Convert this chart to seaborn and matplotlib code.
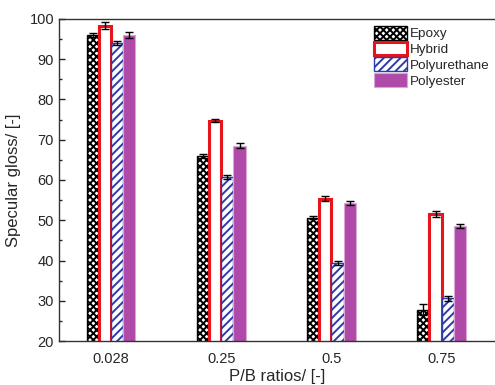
import pandas as pd
import matplotlib
matplotlib.use("Agg")
import matplotlib.pyplot as plt
from matplotlib.patches import Patch
from matplotlib.ticker import MultipleLocator
import seaborn as sns

# P/B ratio groups and the four binder types
ratios = ['0.028', '0.25', '0.5', '0.75']
binders = ['Epoxy', 'Hybrid', 'Polyurethane', 'Polyester']

epoxy = [96.0, 66.0, 50.6, 27.8]
hybrid = [98.3, 74.7, 55.4, 51.5]
polyurethane = [94.0, 60.7, 39.4, 30.6]
polyester = [96.0, 68.5, 54.4, 48.5]

epoxy_err = [0.6, 0.5, 0.4, 1.4]
hybrid_err = [0.8, 0.4, 0.7, 0.7]
polyurethane_err = [0.6, 0.5, 0.5, 0.6]
polyester_err = [0.8, 0.6, 0.5, 0.5]

values = [epoxy, hybrid, polyurethane, polyester]
errors = [epoxy_err, hybrid_err, polyurethane_err, polyester_err]

df = pd.DataFrame({
    'ratio': ratios * 4,
    'binder': [b for b in binders for _ in ratios],
    'gloss': [v for series in values for v in series],
})

sns.set_style('white')
plt.rcParams['font.family'] = ['Liberation Sans', 'DejaVu Sans']
plt.rcParams['hatch.linewidth'] = 1.4

# look of each series: face, edge, hatch, edge width
styles = {
    'Epoxy': dict(facecolor='white', edgecolor='black', hatch='xxxxx', linewidth=1.0),
    'Hybrid': dict(facecolor='white', edgecolor='#e8141c', hatch=None, linewidth=2.2),
    'Polyurethane': dict(facecolor='white', edgecolor='#2b3caa', hatch='////', linewidth=1.0),
    'Polyester': dict(facecolor='#b04aa8', edgecolor='#d9a6d5', hatch=None, linewidth=0.8),
}

fig = plt.figure(figsize=(4.95, 3.85), dpi=100)
ax = fig.add_axes([0.119, 0.114, 0.881, 0.837])

sns.barplot(data=df, x='ratio', y='gloss', hue='binder', order=ratios,
            hue_order=binders, errorbar=None, width=0.44, gap=0, ax=ax,
            legend=False)

for cont, name, err in zip(ax.containers, binders, errors):
    st = styles[name]
    xs, ys = [], []
    for bar in cont:
        bar.set_facecolor(st['facecolor'])
        bar.set_edgecolor(st['edgecolor'])
        bar.set_linewidth(st['linewidth'])
        if st['hatch']:
            bar.set_hatch(st['hatch'])
        xs.append(bar.get_x() + bar.get_width() / 2)
        ys.append(bar.get_height())
    ax.errorbar(xs, ys, yerr=err, fmt='none', ecolor='black',
                elinewidth=1.0, capsize=3, capthick=1.0, zorder=5)

ax.set_ylim(20, 100)
ax.set_xlim(-0.475, 3.485)
ax.yaxis.set_major_locator(MultipleLocator(10))
ax.yaxis.set_minor_locator(MultipleLocator(5))
ax.tick_params(axis='y', which='major', direction='in', length=4, width=1,
               labelsize=10.5, left=True)
ax.tick_params(axis='y', which='minor', direction='in', length=2.5, width=1, left=True)
ax.tick_params(axis='x', length=0, labelsize=10.5, pad=8)

for side in ['left', 'bottom', 'top']:
    ax.spines[side].set_color('#333333')
    ax.spines[side].set_linewidth(1.0)
ax.spines['right'].set_visible(False)

ax.set_xlabel('P/B ratios/ [-]', fontsize=12, labelpad=2)
ax.set_ylabel('Specular gloss/ [-]', fontsize=12, labelpad=6)

handles = [Patch(label=name, **styles[name]) for name in binders]
ax.legend(handles=handles, loc='upper right', bbox_to_anchor=(1.0, 0.995),
          frameon=False, fontsize=9.7, handlelength=2.4, handleheight=1.2,
          handletextpad=0.25, labelspacing=0.1, borderaxespad=0.0)

fig.savefig('out.png', dpi=100)
